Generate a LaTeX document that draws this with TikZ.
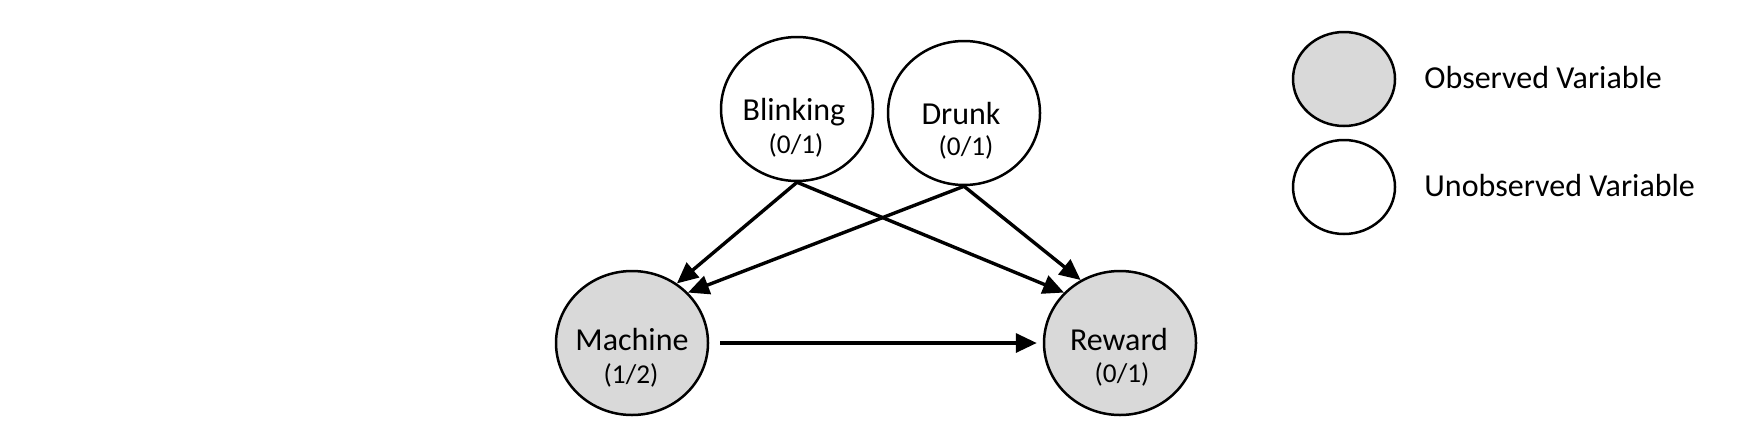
\documentclass[tikz,border=0pt]{standalone}
\usepackage{fontspec}
\setmainfont{Carlito}
\usetikzlibrary{shapes.geometric,arrows.meta}
\definecolor{obsgray}{HTML}{D9D9D9}
\begin{document}
\begin{tikzpicture}[x=0.5pt,y=-0.5pt,
  var/.style={ellipse,draw=black,line width=1.25pt,inner sep=0pt,minimum width=76pt,minimum height=72pt},
  obs/.style={var,fill=obsgray},
  unobs/.style={var,fill=white},
  legvar/.style={minimum width=51pt,minimum height=47pt},
  nm/.style={inner sep=0pt,anchor=base,font=\fontsize{16}{18}\selectfont},
  sub/.style={inner sep=0pt,anchor=base,font=\fontsize{13.6}{16}\selectfont},
  leg/.style={inner sep=0pt,anchor=base west,font=\fontsize{16}{18}\selectfont},
  edge/.style={line width=1.7pt,-{Triangle[length=10.5pt,width=9.5pt]}}]
\useasboundingbox (0,0) rectangle (1754,434);
% variables
\node[unobs] (B) at (797,109) {};
\node[unobs] (D) at (964,113) {};
\node[obs] (M) at (632,343) {};
\node[obs] (R) at (1120,343) {};
% labels
\node[nm] (Bn) at (794,120) {Blinking};
\node[sub] (Bs) at (796,153) {(0/1)};
\node[nm] (Dn) at (961,124) {Drunk};
\node[sub] (Ds) at (966,155) {(0/1)};
\node[nm] (Mn) at (632,350) {Machine};
\node[sub] (Ms) at (631,383) {(1/2)};
\node[nm] (Rn) at (1119,350) {Reward};
\node[sub] (Rs) at (1122,382) {(0/1)};
% edges
\draw[edge] (B.south) -- (M.53);
\draw[edge] (B.south) -- (R.138);
\draw[edge] (D.south) -- (M.42);
\draw[edge] (D.south) -- (R.122);
\draw[edge,shorten <=5.5pt,shorten >=3pt] (M.east) -- (R.west);
% legend
\node[obs,legvar] (LO) at (1344,79) {};
\node[unobs,legvar] (LU) at (1344,187) {};
\node[leg] (LOt) at (1424,88) {Observed Variable};
\node[leg] (LUt) at (1424,196) {Unobserved Variable};
\end{tikzpicture}
\end{document}
